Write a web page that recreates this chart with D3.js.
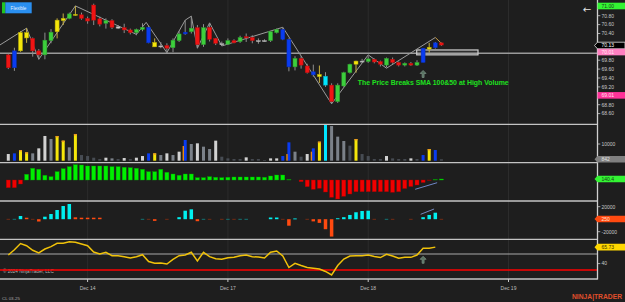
<!DOCTYPE html>
<html>
<head>
<meta charset="utf-8">
<script src="https://cdnjs.cloudflare.com/ajax/libs/d3/7.8.5/d3.min.js"></script>
<style>
  body { margin: 0; background-color: #1e1e1e; overflow: hidden; }
  #content svg { display: block; }
</style>
</head>
<body>
<div id="content"></div>
<script>
// Hourly candles (72 bars)
const opens  = [69.92,69.63,70.01,70.42,70.29,70.01,69.92,70.24,70.44,70.69,70.74,70.83,70.82,70.74,71.04,70.73,70.63,70.69,70.55,70.53,70.48,70.42,70.49,70.54,70.20,70.12,70.13,70.08,70.24,70.39,70.44,70.53,70.15,70.54,70.29,70.17,70.16,70.24,70.22,70.33,70.31,70.24,70.24,70.24,70.42,70.49,70.27,69.65,69.84,69.67,69.54,69.48,69.44,69.24,68.87,69.22,69.52,69.71,69.78,69.77,69.82,69.77,69.69,69.82,69.75,69.69,69.73,69.69,69.75,70.05,70.08,70.19];
const highs  = [69.95,70.08,70.45,70.52,70.31,70.05,70.42,70.50,70.74,70.85,70.87,71.02,70.87,70.78,71.07,70.78,70.74,70.72,70.59,70.62,70.51,70.51,70.63,70.57,70.29,70.21,70.18,70.29,70.45,70.70,70.78,70.59,70.61,70.63,70.30,70.22,70.29,70.27,70.35,70.40,70.36,70.29,70.27,70.45,70.51,70.53,70.29,69.89,69.89,69.72,69.70,69.68,69.53,69.28,69.28,69.54,69.72,69.79,69.83,69.89,69.84,69.79,69.86,69.86,69.77,69.75,69.76,69.80,70.07,70.19,70.21,70.20];
const lows   = [69.60,69.56,69.99,70.19,69.88,69.82,69.82,70.18,70.29,70.59,70.72,70.80,70.71,70.62,70.59,70.56,70.51,70.50,70.50,70.41,70.38,70.36,70.45,70.18,70.10,70.07,69.96,69.98,70.21,70.37,70.40,70.07,70.10,70.22,70.14,70.13,70.14,70.18,70.19,70.21,70.18,70.17,70.22,70.21,70.40,70.25,69.55,69.57,69.61,69.50,69.43,69.29,69.20,68.82,68.84,69.20,69.50,69.52,69.74,69.74,69.73,69.66,69.64,69.72,69.66,69.66,69.67,69.67,69.75,69.97,70.06,70.12];
const closes = [69.63,70.01,70.42,70.30,70.01,69.92,70.25,70.43,70.70,70.74,70.84,70.82,70.74,70.68,70.70,70.61,70.69,70.54,70.52,70.48,70.42,70.49,70.54,70.19,70.10,70.12,70.07,70.25,70.39,70.43,70.52,70.15,70.53,70.27,70.18,70.16,70.24,70.19,70.31,70.30,70.24,70.24,70.24,70.44,70.49,70.27,69.65,69.84,69.69,69.52,69.47,69.43,69.24,68.87,69.24,69.52,69.71,69.78,69.78,69.83,69.76,69.71,69.84,69.75,69.69,69.73,69.69,69.75,70.07,70.09,70.19,70.14];
// r red, g green, b blue, y yellow, c cyan, w neutral
const candleColors = ['r','b','y','y','r','r','g','g','y','y','g','y','r','r','r','r','g','r','w','r','r','g','g','b','y','w','r','g','g','b','g','r','g','r','r','w','g','r','g','r','r','w','w','g','g','b','b','g','r','r','b','y','c','r','g','g','g','y','w','g','r','r','g','r','r','g','r','g','b','y','b','r'];

// Zigzag swing line (bar index, price)
const zigzagBars   = [-1.4, 3, 5, 11, 21, 22.6, 26, 29, 30, 31, 33, 35, 45, 53, 59, 62, 70];
const zigzagPrices = [70.14, 70.52, 69.82, 71.02, 70.38, 70.65, 69.97, 70.70, 70.79, 70.07, 70.64, 70.12, 70.54, 68.82, 69.92, 69.62, 70.31];
const zigzagLastBars   = [70, 71];
const zigzagLastPrices = [70.31, 70.18];

// Volume
const volumes = [4000,4400,6400,5000,4400,7400,14800,13000,14800,12000,8000,16000,3400,2800,1800,1000,1800,1400,1000,1600,1000,1800,2800,4400,4400,3400,4400,3400,5400,12400,10000,10400,8400,7000,12000,2400,1400,1000,1000,2000,1000,1000,400,1400,1400,2800,11000,5400,2400,4000,7400,11400,21800,20800,14400,11800,9000,13000,4000,2800,1000,1000,2800,1400,1000,1000,1400,1000,3400,7000,6400,842];
// L light, M mid, D dark grey, B blue, Y yellow, C cyan
const volumeColors = ['L','B','Y','Y','M','L','L','M','Y','Y','M','Y','D','D','D','D','L','M','D','L','D','L','L','B','Y','M','L','M','L','B','M','L','M','M','L','D','D','D','D','L','D','D','D','L','L','B','B','M','D','L','B','Y','C','M','M','M','D','Y','D','D','D','D','L','D','D','D','L','D','B','Y','B','D'];
const volOverlayBars   = [29, 46, 50];
const volOverlayValues = [8800, 4000, 5400];

// Trend histogram (green / red panel)
const trendValues = [-1078,-1078,-560,798,1638,1498,658,462,1162,1582,1862,2142,2100,1960,1960,1960,1960,1862,1862,1778,1722,1638,1498,1162,1162,1498,1078,840,658,840,840,322,322,462,378,322,378,420,420,420,420,420,378,560,700,700,98,0,-238,-938,-1302,-1162,-1680,-2422,-2660,-2282,-1960,-1638,-1638,-1638,-1638,-1638,-1638,-1722,-1638,-1190,-910,-700,-350,-98,98,140.4];
const trendLineBars   = [66.7, 70.3];
const trendLineValues = [-1302, -378];

// Flow histogram (cyan / orange panel)
const flowValues = [600,600,5100,2400,600,-3700,4000,8300,14700,21100,24300,3000,2400,2400,2400,2400,0,0,0,0,0,0,600,600,-2700,0,600,0,3200,13600,15800,-3200,600,600,0,600,600,600,600,600,0,0,0,2700,2700,600,-10400,1200,0,600,-3500,-5900,-16000,-27800,1500,3200,6800,11100,13100,13600,600,0,600,600,0,0,600,0,3200,6800,10400,600];
// C cyan, c dark cyan, O orange, o dark orange
const flowColors = ['o','c','C','O','o','O','C','C','C','C','C','O','O','O','O','O','o','o','o','o','o','o','c','o','O','o','o','o','C','C','C','O','c','o','o','o','c','o','c','c','o','o','o','C','C','o','O','C','o','o','O','O','O','O','C','C','C','C','C','C','o','o','c','o','o','o','o','o','C','C','C','o'];
const flowLineBars   = [67.6, 69.8];
const flowLineValues = [7840, 16320];

// Oscillator line (bottom panel)
const rsiValues = [53.4,61.7,71.4,68.0,60.8,56.6,62.8,66.6,71.7,71.7,74.2,73.3,70.6,68.0,58.1,55.0,57.7,52.3,52.3,50.8,48.8,50.8,53.9,43.3,40.5,40.9,39.4,46.7,52.3,53.4,57.7,44.1,57.7,50.8,47.7,46.7,49.2,49.8,52.3,53.4,50.8,50.3,48.8,57.7,59.7,51.9,33.9,40.5,37.0,33.9,32.7,31.6,27.7,22.2,37.0,47.2,51.9,52.3,52.3,53.4,51.1,49.4,54.5,51.9,48.3,49.8,49.8,53.4,63.9,63.9,65.73];
const rsiUpper = 55;
const rsiLower = 30;

// Axis ticks
const priceTicks = [70.8, 70.6, 70.4, 69.8, 69.6, 69.4, 69.2, 68.8, 68.6];
const volumeTicks = [10000];
const flowTicks = [20000, -20000];
const rsiTicks = [40];
const dayTicks = [13, 36, 59, 82];
const dayLabels = ['Dec 14', 'Dec 17', 'Dec 18', 'Dec 19'];

// Signal bar and level box
const signalBar = 68;
const pivotLevel = 69.955;
const boxBars = [66.95, 77];
const boxPrices = [70.03, 69.92];

document.addEventListener('DOMContentLoaded', () => {
    drawSVG();
});

const drawSVG = () => {
    const width = 625;
    const height = 302;
    const plotRight = 597.5;
    const font = '"Liberation Sans", Arial, sans-serif';

    const svg = d3.select('#content')
                    .append('svg')
                    .attr('width', width)
                    .attr('height', height)
                    .style('background-color', '#1e1e1e')
                    .style('font-family', font);

    // Scales: one x for all panels, one y per panel
    const x = d3.scaleLinear().domain([0, 71]).range([8.3, 441.4]);
    const yPrice = d3.scaleLinear().domain([68.6, 71]).range([113.6, 6.8]);
    const yVol = d3.scaleLinear().domain([0, 10000]).range([160.7, 144]);
    const yTrend = d3.scaleLinear().domain([0, 1400]).range([180, 170]);
    const yFlow = d3.scaleLinear().domain([-20000, 20000]).range([231.7, 206.7]);
    const yRsi = d3.scaleLinear().domain([rsiLower, rsiUpper]).range([270, 254]);

    // Clip for the price panel
    svg.append('clipPath')
        .attr('id', 'priceClip')
        .append('rect')
        .attr('x', 0).attr('y', 0)
        .attr('width', plotRight).attr('height', 123.5);

    // Faint day gridlines
    svg.append('g')
        .selectAll('line')
        .data(dayTicks)
        .enter()
        .append('line')
        .attr('x1', d => x(d)).attr('x2', d => x(d))
        .attr('y1', 0).attr('y2', 279)
        .attr('stroke', '#2c2c2c')
        .attr('stroke-width', 1);

    // ---------- Price panel ----------
    const pricePanel = svg.append('g').attr('clip-path', 'url(#priceClip)');

    // Horizontal level line
    pricePanel.append('line')
        .attr('x1', 0).attr('x2', plotRight)
        .attr('y1', yPrice(pivotLevel)).attr('y2', yPrice(pivotLevel))
        .attr('stroke', '#9a9a9a')
        .attr('stroke-width', 1.4);

    // Box on the level
    pricePanel.append('rect')
        .attr('x', x(boxBars[0]))
        .attr('y', yPrice(boxPrices[0]))
        .attr('width', x(boxBars[1]) - x(boxBars[0]))
        .attr('height', yPrice(boxPrices[1]) - yPrice(boxPrices[0]))
        .attr('fill', 'rgba(255,255,255,0.08)')
        .attr('stroke', '#cfcfcf')
        .attr('stroke-width', 1.2);

    // Zigzag line
    const zigzag = d3.line().x(d => x(d[0])).y(d => yPrice(d[1]));
    pricePanel.append('path')
        .attr('d', zigzag(d3.zip(zigzagBars, zigzagPrices)))
        .attr('fill', 'none')
        .attr('stroke', '#9c9c9c')
        .attr('stroke-width', 1);
    pricePanel.append('path')
        .attr('d', zigzag(d3.zip(zigzagLastBars, zigzagLastPrices)))
        .attr('fill', 'none')
        .attr('stroke', '#c89a40')
        .attr('stroke-width', 1);

    const candleFill = { r: '#f01414', g: '#3ccf3c', b: '#0a3cf0', y: '#f5e60a', c: '#00e5ff', w: '#d8d8d8' };
    const candles = opens.map((o, i) => ({ i, o, h: highs[i], l: lows[i], c: closes[i], col: candleColors[i] }));

    const candle = pricePanel.append('g')
                            .selectAll('g')
                            .data(candles)
                            .enter()
                            .append('g');

    candle.append('line')
        .attr('x1', d => x(d.i)).attr('x2', d => x(d.i))
        .attr('y1', d => yPrice(d.h)).attr('y2', d => yPrice(d.l))
        .attr('stroke', d => d.col === 'y' ? '#c8b040' : '#8e8e8e')
        .attr('stroke-width', 1);

    candle.append('rect')
        .attr('x', d => x(d.i) - 2)
        .attr('y', d => yPrice(Math.max(d.o, d.c)))
        .attr('width', 4)
        .attr('height', d => Math.max(1, Math.abs(yPrice(d.o) - yPrice(d.c))))
        .attr('fill', d => candleFill[d.col])
        .attr('stroke', d => d3.color(candleFill[d.col]).darker(0.9))
        .attr('stroke-width', 0.5);

    // Signal arrow under the breakout bar
    const upArrow = (cx, top) => `M${cx},${top} L${cx + 3},${top + 3} L${cx + 1},${top + 3} L${cx + 1},${top + 7} L${cx - 1},${top + 7} L${cx - 1},${top + 3} L${cx - 3},${top + 3} Z`;
    svg.append('path')
        .attr('d', upArrow(x(signalBar), yPrice(lows[signalBar]) + 8))
        .attr('fill', '#56705f')
        .attr('stroke', '#8aa595')
        .attr('stroke-width', 0.6);

    // Signal text
    svg.append('text')
        .attr('x', 357.7)
        .attr('y', 84.6)
        .attr('fill', '#1fe01f')
        .attr('textLength', 151)
        .attr('lengthAdjust', 'spacingAndGlyphs')
        .style('font-size', '7.4px')
        .style('font-weight', 'bold')
        .text('The Price Breaks SMA 100&50 at High Volume');

    // Small strategy button top-left
    svg.append('rect')
        .attr('x', 2).attr('y', 2.3).attr('width', 3.3).attr('height', 11)
        .attr('fill', '#22c322');
    svg.append('rect')
        .attr('x', 5.3).attr('y', 2.3).attr('width', 26.4).attr('height', 11)
        .attr('fill', '#2a8ff0');
    svg.append('text')
        .attr('x', 18.5).attr('y', 9.8)
        .attr('text-anchor', 'middle')
        .attr('fill', '#e8f2ff')
        .style('font-size', '4.6px')
        .text('Flexible');

    // Back arrow top-right
    svg.append('text')
        .attr('x', 587).attr('y', 12.8)
        .attr('text-anchor', 'middle')
        .attr('fill', '#e6e6e6')
        .style('font-family', '"DejaVu Sans"')
        .style('font-size', '10px')
        .text('\u2190');

    // ---------- Volume panel ----------
    const volFill = { L: '#d2d2d2', M: '#7b8189', D: '#474c53', B: '#0a3cf0', Y: '#f5e60a', C: '#00e5ff' };
    const volData = volumes.map((v, i) => ({ i, v, col: volumeColors[i] }));

    svg.append('g')
        .selectAll('rect')
        .data(volData)
        .enter()
        .append('rect')
        .attr('x', d => x(d.i) - 1.5)
        .attr('y', d => yVol(d.v))
        .attr('width', 3)
        .attr('height', d => yVol(0) - yVol(d.v))
        .attr('fill', d => volFill[d.col]);

    // Orange cap on the yellow volume bars
    svg.append('g')
        .selectAll('rect')
        .data(volData.filter(d => d.col === 'Y'))
        .enter()
        .append('rect')
        .attr('x', d => x(d.i) - 1.5)
        .attr('y', d => yVol(d.v))
        .attr('width', 3)
        .attr('height', 1.4)
        .attr('fill', '#f09a20');

    svg.append('g')
        .selectAll('rect')
        .data(volOverlayBars)
        .enter()
        .append('rect')
        .attr('x', d => x(d) - 2.6)
        .attr('y', (d, i) => yVol(volOverlayValues[i]))
        .attr('width', 1.4)
        .attr('height', (d, i) => yVol(0) - yVol(volOverlayValues[i]))
        .attr('fill', '#e88a14');

    // ---------- Trend histogram panel ----------
    svg.append('g')
        .selectAll('rect')
        .data(trendValues)
        .enter()
        .append('rect')
        .attr('x', (d, i) => x(i) - 2)
        .attr('y', d => yTrend(Math.max(0, d)))
        .attr('width', 4)
        .attr('height', d => Math.abs(yTrend(d) - yTrend(0)))
        .attr('fill', d => d >= 0 ? (d < 120 ? '#0f7a0f' : '#00f000') : (d > -120 ? '#7a0f0f' : '#f00000'))
        .attr('stroke', d => d >= 0 ? '#00a000' : '#a00000')
        .attr('stroke-width', 0.4);

    svg.append('line')
        .attr('x1', x(trendLineBars[0])).attr('x2', x(trendLineBars[1]))
        .attr('y1', yTrend(trendLineValues[0])).attr('y2', yTrend(trendLineValues[1]))
        .attr('stroke', '#6f86c6')
        .attr('stroke-width', 1);

    // ---------- Flow histogram panel ----------
    const flowFill = { C: '#00f0f0', c: '#137c7c', O: '#ff4a10', o: '#7c2c12' };
    svg.append('g')
        .selectAll('rect')
        .data(flowValues)
        .enter()
        .append('rect')
        .attr('x', (d, i) => x(i) - 1.75)
        .attr('y', d => yFlow(Math.max(0, d)))
        .attr('width', 3.5)
        .attr('height', d => d === 0 ? 0 : Math.max(0.9, Math.abs(yFlow(d) - yFlow(0))))
        .attr('fill', (d, i) => flowFill[flowColors[i]]);

    svg.append('line')
        .attr('x1', x(flowLineBars[0])).attr('x2', x(flowLineBars[1]))
        .attr('y1', yFlow(flowLineValues[0])).attr('y2', yFlow(flowLineValues[1]))
        .attr('stroke', '#7388c0')
        .attr('stroke-width', 1);

    // ---------- Oscillator panel ----------
    svg.append('line')
        .attr('x1', 0).attr('x2', plotRight)
        .attr('y1', yRsi(rsiUpper)).attr('y2', yRsi(rsiUpper))
        .attr('stroke', '#a8a8a8')
        .attr('stroke-width', 1);

    svg.append('text')
        .attr('x', 3).attr('y', 273.2)
        .attr('fill', '#b4b4b4')
        .style('font-size', '4.6px')
        .text('\u00a9 2024 NinjaTrader, LLC');

    svg.append('line')
        .attr('x1', 0).attr('x2', plotRight)
        .attr('y1', yRsi(rsiLower)).attr('y2', yRsi(rsiLower))
        .attr('stroke', '#ff0000')
        .attr('stroke-width', 1.5);

    svg.append('path')
        .attr('d', d3.line().x((d, i) => x(i)).y(d => yRsi(d))(rsiValues))
        .attr('fill', 'none')
        .attr('stroke', '#f0c20a')
        .attr('stroke-width', 1.5);

    svg.append('path')
        .attr('d', upArrow(x(signalBar), yRsi(rsiValues[signalBar]) + 8))
        .attr('fill', '#56705f')
        .attr('stroke', '#8aa595')
        .attr('stroke-width', 0.6);

    // ---------- Panel separators and borders ----------
    svg.append('g')
        .selectAll('line')
        .data([124.3, 162.7, 201, 239.3, 279])
        .enter()
        .append('line')
        .attr('x1', 0).attr('x2', plotRight)
        .attr('y1', d => d).attr('y2', d => d)
        .attr('stroke', '#c4c4c4')
        .attr('stroke-width', 1.3);

    svg.append('line')
        .attr('x1', plotRight).attr('x2', plotRight)
        .attr('y1', 0).attr('y2', 279.6)
        .attr('stroke', '#d0d0d0')
        .attr('stroke-width', 1.3);

    // ---------- Right axis ticks ----------
    const axisTick = (y, label) => {
        svg.append('line')
            .attr('x1', plotRight).attr('x2', plotRight + 2.8)
            .attr('y1', y).attr('y2', y)
            .attr('stroke', '#c8c8c8')
            .attr('stroke-width', 0.8);
        svg.append('text')
            .attr('x', 601.5).attr('y', y + 1.8)
            .attr('fill', '#c8c8c8')
            .style('font-size', '5px')
            .text(label);
    };
    priceTicks.forEach(t => axisTick(yPrice(t), d3.format('.2f')(t)));
    volumeTicks.forEach(t => axisTick(yVol(t), t));
    flowTicks.forEach(t => axisTick(yFlow(t), t));
    rsiTicks.forEach(t => axisTick(yRsi(t), t));

    // Value tags on the right axis
    const tag = (y, label, fill, color, notch, stroke) => {
        const h = 6.6;
        const x0 = notch ? 594.5 : plotRight;
        const p = notch
            ? `M${x0},${y} L${x0 + 3},${y - h / 2} L${width},${y - h / 2} L${width},${y + h / 2} L${x0 + 3},${y + h / 2} Z`
            : `M${x0},${y - h / 2} L${width},${y - h / 2} L${width},${y + h / 2} L${x0},${y + h / 2} Z`;
        svg.append('path')
            .attr('d', p)
            .attr('fill', fill)
            .attr('stroke', stroke || 'none')
            .attr('stroke-width', 0.8);
        svg.append('text')
            .attr('x', 601.5).attr('y', y + 1.8)
            .attr('fill', color)
            .style('font-size', '5px')
            .text(label);
    };
    tag(yPrice(71.0) - 0.8, '71.00', '#33f533', '#1a3a1a', false);
    tag(yPrice(70.13), '70.13', '#000000', '#ffffff', true, '#e0e0e0');
    tag(yPrice(70.01) + 1.2, '70.01', '#ff80c0', '#ffe8f4', false);
    tag(yPrice(69.01), '69.01', '#ff3399', '#ffe0ee', false);
    tag(yVol(volumes[71]), '842', '#808080', '#e0e0e0', true);
    tag(yTrend(trendValues[71]), '140.4', '#33f533', '#1a3a1a', true);
    tag(yFlow(250), '250', '#ff4a10', '#ffe0d0', true);
    tag(yRsi(rsiValues[70]), '65.73', '#ffd800', '#3a3000', true);

    // ---------- Time axis ----------
    dayTicks.forEach((t, k) => {
        svg.append('line')
            .attr('x1', x(t)).attr('x2', x(t))
            .attr('y1', 279).attr('y2', 282)
            .attr('stroke', '#c8c8c8')
            .attr('stroke-width', 1);
        svg.append('text')
            .attr('x', x(t)).attr('y', 289.5)
            .attr('text-anchor', 'middle')
            .attr('fill', '#bdbdbd')
            .style('font-size', '5px')
            .text(dayLabels[k]);
    });

    svg.append('text')
        .attr('x', 2).attr('y', 299.5)
        .attr('fill', '#a8a8a8')
        .style('font-size', '4.4px')
        .text('CL 03-25');

    // Brand mark
    svg.append('text')
        .attr('x', 572).attr('y', 298.8)
        .attr('fill', '#e0502c')
        .attr('textLength', 50)
        .attr('lengthAdjust', 'spacingAndGlyphs')
        .style('font-size', '7px')
        .style('font-weight', 'bold')
        .text('NINJA|TRADER');
};
</script>
</body>
</html>
